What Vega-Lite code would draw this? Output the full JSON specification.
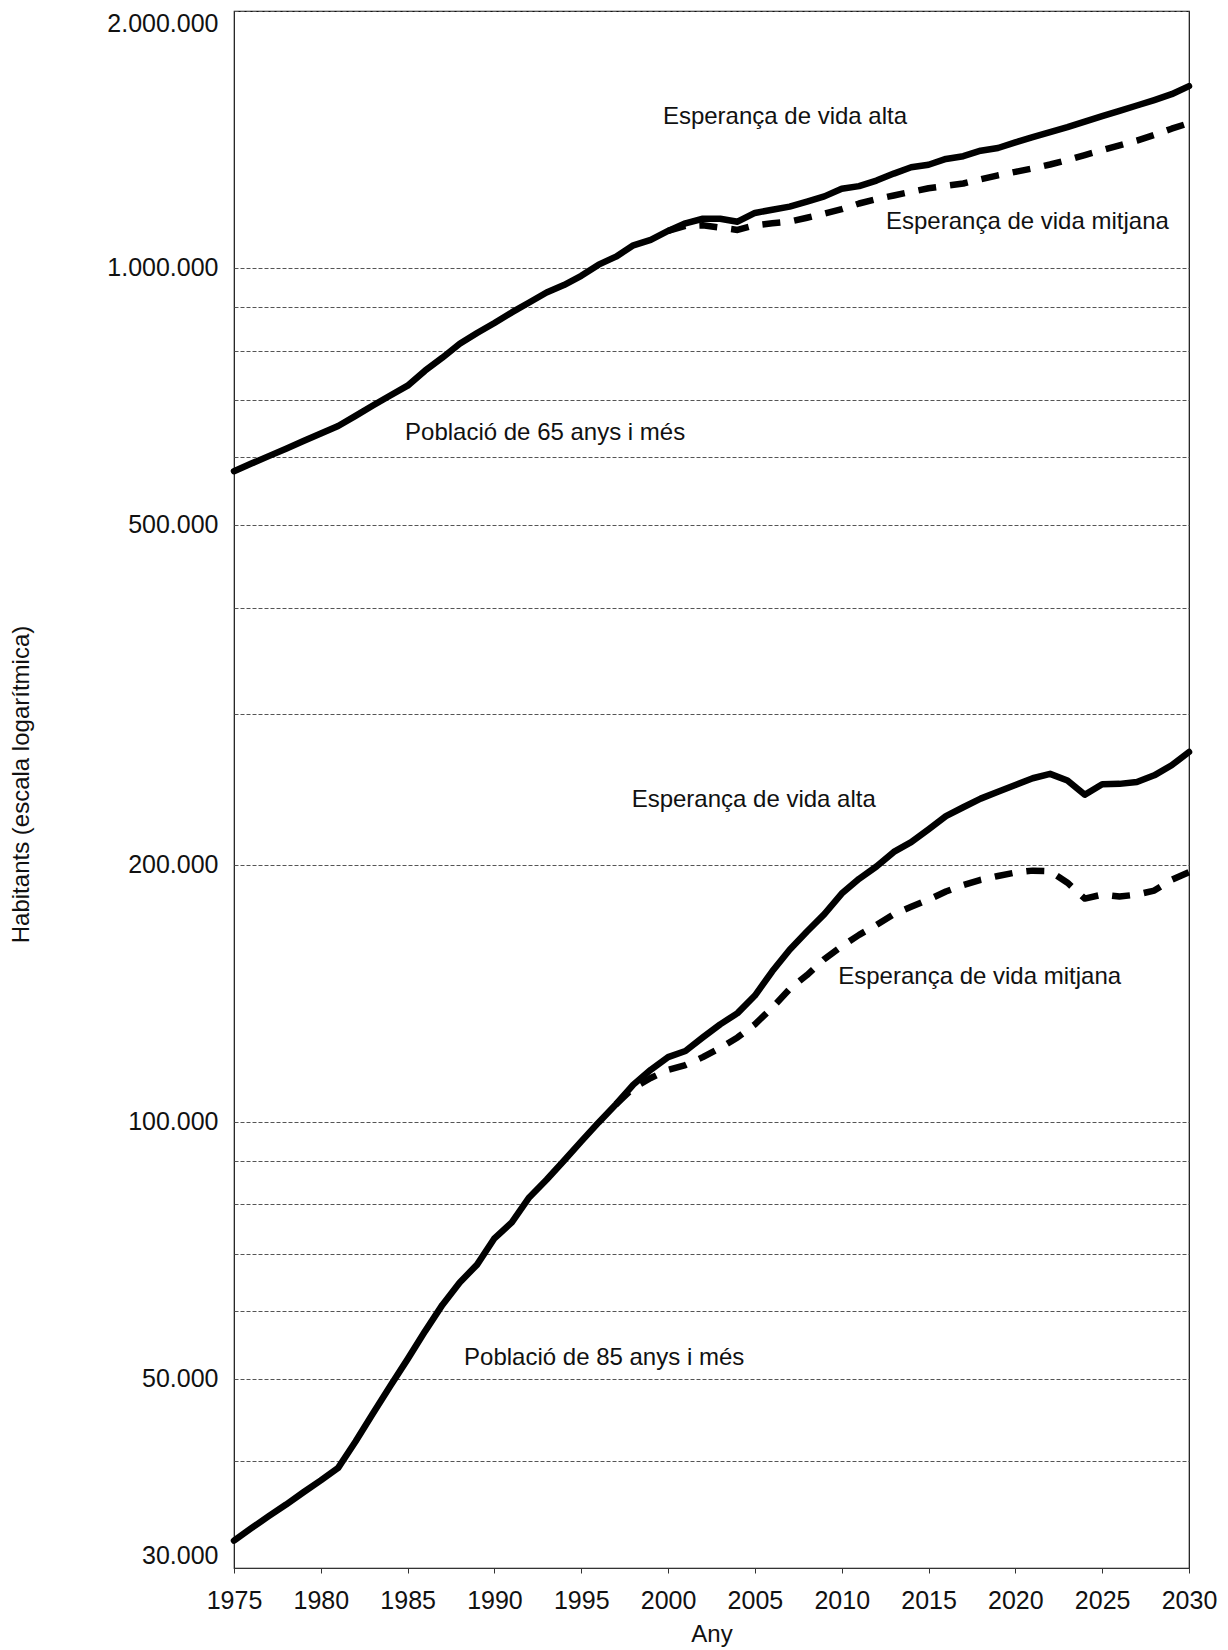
{
  "$schema": "https://vega.github.io/schema/vega-lite/v6.json",
  "width": 955,
  "height": 1557,
  "autosize": {"type": "none"},
  "padding": {"left": 234, "top": 11, "right": 39, "bottom": 82},
  "background": "white",
  "config": {
    "locale": {"number": {"decimal": ",", "thousands": ".", "grouping": [3], "currency": ["", " €"]}},
    "font": "Liberation Sans",
    "view": {"stroke": "#111", "strokeWidth": 1.2},
    "axis": {"labelFont": "Liberation Sans", "titleFont": "Liberation Sans", "labelColor": "#111", "titleColor": "#111", "titleFontWeight": "normal"}
  },
  "datasets": {
    "series": [
      {"any": 1975, "habitants": 578000, "grup": "65", "escenari": "alta"},
      {"any": 1976, "habitants": 590000, "grup": "65", "escenari": "alta"},
      {"any": 1977, "habitants": 602000, "grup": "65", "escenari": "alta"},
      {"any": 1978, "habitants": 614000, "grup": "65", "escenari": "alta"},
      {"any": 1979, "habitants": 627000, "grup": "65", "escenari": "alta"},
      {"any": 1980, "habitants": 640000, "grup": "65", "escenari": "alta"},
      {"any": 1981, "habitants": 653000, "grup": "65", "escenari": "alta"},
      {"any": 1982, "habitants": 671000, "grup": "65", "escenari": "alta"},
      {"any": 1983, "habitants": 690000, "grup": "65", "escenari": "alta"},
      {"any": 1984, "habitants": 709000, "grup": "65", "escenari": "alta"},
      {"any": 1985, "habitants": 728000, "grup": "65", "escenari": "alta"},
      {"any": 1986, "habitants": 758000, "grup": "65", "escenari": "alta"},
      {"any": 1987, "habitants": 785000, "grup": "65", "escenari": "alta"},
      {"any": 1988, "habitants": 815000, "grup": "65", "escenari": "alta"},
      {"any": 1989, "habitants": 839000, "grup": "65", "escenari": "alta"},
      {"any": 1990, "habitants": 862000, "grup": "65", "escenari": "alta"},
      {"any": 1991, "habitants": 887000, "grup": "65", "escenari": "alta"},
      {"any": 1992, "habitants": 911000, "grup": "65", "escenari": "alta"},
      {"any": 1993, "habitants": 936000, "grup": "65", "escenari": "alta"},
      {"any": 1994, "habitants": 955000, "grup": "65", "escenari": "alta"},
      {"any": 1995, "habitants": 979000, "grup": "65", "escenari": "alta"},
      {"any": 1996, "habitants": 1009000, "grup": "65", "escenari": "alta"},
      {"any": 1997, "habitants": 1031000, "grup": "65", "escenari": "alta"},
      {"any": 1998, "habitants": 1063000, "grup": "65", "escenari": "alta"},
      {"any": 1999, "habitants": 1079000, "grup": "65", "escenari": "alta"},
      {"any": 2000, "habitants": 1105000, "grup": "65", "escenari": "alta"},
      {"any": 2001, "habitants": 1128000, "grup": "65", "escenari": "alta"},
      {"any": 2002, "habitants": 1142000, "grup": "65", "escenari": "alta"},
      {"any": 2003, "habitants": 1142000, "grup": "65", "escenari": "alta"},
      {"any": 2004, "habitants": 1133000, "grup": "65", "escenari": "alta"},
      {"any": 2005, "habitants": 1160000, "grup": "65", "escenari": "alta"},
      {"any": 2006, "habitants": 1170000, "grup": "65", "escenari": "alta"},
      {"any": 2007, "habitants": 1180000, "grup": "65", "escenari": "alta"},
      {"any": 2008, "habitants": 1196000, "grup": "65", "escenari": "alta"},
      {"any": 2009, "habitants": 1213000, "grup": "65", "escenari": "alta"},
      {"any": 2010, "habitants": 1238000, "grup": "65", "escenari": "alta"},
      {"any": 2011, "habitants": 1247000, "grup": "65", "escenari": "alta"},
      {"any": 2012, "habitants": 1266000, "grup": "65", "escenari": "alta"},
      {"any": 2013, "habitants": 1290000, "grup": "65", "escenari": "alta"},
      {"any": 2014, "habitants": 1312000, "grup": "65", "escenari": "alta"},
      {"any": 2015, "habitants": 1321000, "grup": "65", "escenari": "alta"},
      {"any": 2016, "habitants": 1342000, "grup": "65", "escenari": "alta"},
      {"any": 2017, "habitants": 1352000, "grup": "65", "escenari": "alta"},
      {"any": 2018, "habitants": 1372000, "grup": "65", "escenari": "alta"},
      {"any": 2019, "habitants": 1382000, "grup": "65", "escenari": "alta"},
      {"any": 2020, "habitants": 1403000, "grup": "65", "escenari": "alta"},
      {"any": 2021, "habitants": 1423000, "grup": "65", "escenari": "alta"},
      {"any": 2022, "habitants": 1443000, "grup": "65", "escenari": "alta"},
      {"any": 2023, "habitants": 1462000, "grup": "65", "escenari": "alta"},
      {"any": 2024, "habitants": 1484000, "grup": "65", "escenari": "alta"},
      {"any": 2025, "habitants": 1506000, "grup": "65", "escenari": "alta"},
      {"any": 2026, "habitants": 1528000, "grup": "65", "escenari": "alta"},
      {"any": 2027, "habitants": 1550000, "grup": "65", "escenari": "alta"},
      {"any": 2028, "habitants": 1573000, "grup": "65", "escenari": "alta"},
      {"any": 2029, "habitants": 1598000, "grup": "65", "escenari": "alta"},
      {"any": 2030, "habitants": 1633000, "grup": "65", "escenari": "alta"},
      {"any": 2000, "habitants": 1105000, "grup": "65", "escenari": "mitjana"},
      {"any": 2001, "habitants": 1120000, "grup": "65", "escenari": "mitjana"},
      {"any": 2002, "habitants": 1122000, "grup": "65", "escenari": "mitjana"},
      {"any": 2003, "habitants": 1115000, "grup": "65", "escenari": "mitjana"},
      {"any": 2004, "habitants": 1108000, "grup": "65", "escenari": "mitjana"},
      {"any": 2005, "habitants": 1122000, "grup": "65", "escenari": "mitjana"},
      {"any": 2006, "habitants": 1128000, "grup": "65", "escenari": "mitjana"},
      {"any": 2007, "habitants": 1133000, "grup": "65", "escenari": "mitjana"},
      {"any": 2008, "habitants": 1145000, "grup": "65", "escenari": "mitjana"},
      {"any": 2009, "habitants": 1158000, "grup": "65", "escenari": "mitjana"},
      {"any": 2010, "habitants": 1172000, "grup": "65", "escenari": "mitjana"},
      {"any": 2011, "habitants": 1190000, "grup": "65", "escenari": "mitjana"},
      {"any": 2012, "habitants": 1204000, "grup": "65", "escenari": "mitjana"},
      {"any": 2013, "habitants": 1216000, "grup": "65", "escenari": "mitjana"},
      {"any": 2014, "habitants": 1228000, "grup": "65", "escenari": "mitjana"},
      {"any": 2015, "habitants": 1240000, "grup": "65", "escenari": "mitjana"},
      {"any": 2016, "habitants": 1248000, "grup": "65", "escenari": "mitjana"},
      {"any": 2017, "habitants": 1256000, "grup": "65", "escenari": "mitjana"},
      {"any": 2018, "habitants": 1270000, "grup": "65", "escenari": "mitjana"},
      {"any": 2019, "habitants": 1284000, "grup": "65", "escenari": "mitjana"},
      {"any": 2020, "habitants": 1296000, "grup": "65", "escenari": "mitjana"},
      {"any": 2021, "habitants": 1308000, "grup": "65", "escenari": "mitjana"},
      {"any": 2022, "habitants": 1322000, "grup": "65", "escenari": "mitjana"},
      {"any": 2023, "habitants": 1338000, "grup": "65", "escenari": "mitjana"},
      {"any": 2024, "habitants": 1356000, "grup": "65", "escenari": "mitjana"},
      {"any": 2025, "habitants": 1374000, "grup": "65", "escenari": "mitjana"},
      {"any": 2026, "habitants": 1392000, "grup": "65", "escenari": "mitjana"},
      {"any": 2027, "habitants": 1410000, "grup": "65", "escenari": "mitjana"},
      {"any": 2028, "habitants": 1432000, "grup": "65", "escenari": "mitjana"},
      {"any": 2029, "habitants": 1456000, "grup": "65", "escenari": "mitjana"},
      {"any": 2030, "habitants": 1478000, "grup": "65", "escenari": "mitjana"},
      {"any": 1975, "habitants": 32300, "grup": "85", "escenari": "alta"},
      {"any": 1976, "habitants": 33400, "grup": "85", "escenari": "alta"},
      {"any": 1977, "habitants": 34500, "grup": "85", "escenari": "alta"},
      {"any": 1978, "habitants": 35600, "grup": "85", "escenari": "alta"},
      {"any": 1979, "habitants": 36800, "grup": "85", "escenari": "alta"},
      {"any": 1980, "habitants": 38000, "grup": "85", "escenari": "alta"},
      {"any": 1981, "habitants": 39300, "grup": "85", "escenari": "alta"},
      {"any": 1982, "habitants": 42200, "grup": "85", "escenari": "alta"},
      {"any": 1983, "habitants": 45500, "grup": "85", "escenari": "alta"},
      {"any": 1984, "habitants": 49000, "grup": "85", "escenari": "alta"},
      {"any": 1985, "habitants": 52700, "grup": "85", "escenari": "alta"},
      {"any": 1986, "habitants": 56800, "grup": "85", "escenari": "alta"},
      {"any": 1987, "habitants": 61000, "grup": "85", "escenari": "alta"},
      {"any": 1988, "habitants": 64800, "grup": "85", "escenari": "alta"},
      {"any": 1989, "habitants": 68000, "grup": "85", "escenari": "alta"},
      {"any": 1990, "habitants": 73000, "grup": "85", "escenari": "alta"},
      {"any": 1991, "habitants": 76200, "grup": "85", "escenari": "alta"},
      {"any": 1992, "habitants": 81500, "grup": "85", "escenari": "alta"},
      {"any": 1993, "habitants": 85500, "grup": "85", "escenari": "alta"},
      {"any": 1994, "habitants": 90000, "grup": "85", "escenari": "alta"},
      {"any": 1995, "habitants": 94800, "grup": "85", "escenari": "alta"},
      {"any": 1996, "habitants": 99800, "grup": "85", "escenari": "alta"},
      {"any": 1997, "habitants": 104800, "grup": "85", "escenari": "alta"},
      {"any": 1998, "habitants": 110500, "grup": "85", "escenari": "alta"},
      {"any": 1999, "habitants": 115000, "grup": "85", "escenari": "alta"},
      {"any": 2000, "habitants": 119000, "grup": "85", "escenari": "alta"},
      {"any": 2001, "habitants": 121000, "grup": "85", "escenari": "alta"},
      {"any": 2002, "habitants": 125500, "grup": "85", "escenari": "alta"},
      {"any": 2003, "habitants": 130000, "grup": "85", "escenari": "alta"},
      {"any": 2004, "habitants": 134000, "grup": "85", "escenari": "alta"},
      {"any": 2005, "habitants": 140500, "grup": "85", "escenari": "alta"},
      {"any": 2006, "habitants": 150000, "grup": "85", "escenari": "alta"},
      {"any": 2007, "habitants": 159000, "grup": "85", "escenari": "alta"},
      {"any": 2008, "habitants": 167000, "grup": "85", "escenari": "alta"},
      {"any": 2009, "habitants": 175000, "grup": "85", "escenari": "alta"},
      {"any": 2010, "habitants": 185000, "grup": "85", "escenari": "alta"},
      {"any": 2011, "habitants": 192500, "grup": "85", "escenari": "alta"},
      {"any": 2012, "habitants": 199000, "grup": "85", "escenari": "alta"},
      {"any": 2013, "habitants": 207000, "grup": "85", "escenari": "alta"},
      {"any": 2014, "habitants": 212500, "grup": "85", "escenari": "alta"},
      {"any": 2015, "habitants": 220000, "grup": "85", "escenari": "alta"},
      {"any": 2016, "habitants": 228000, "grup": "85", "escenari": "alta"},
      {"any": 2017, "habitants": 233500, "grup": "85", "escenari": "alta"},
      {"any": 2018, "habitants": 239000, "grup": "85", "escenari": "alta"},
      {"any": 2019, "habitants": 243500, "grup": "85", "escenari": "alta"},
      {"any": 2020, "habitants": 248000, "grup": "85", "escenari": "alta"},
      {"any": 2021, "habitants": 252500, "grup": "85", "escenari": "alta"},
      {"any": 2022, "habitants": 255500, "grup": "85", "escenari": "alta"},
      {"any": 2023, "habitants": 251000, "grup": "85", "escenari": "alta"},
      {"any": 2024, "habitants": 241500, "grup": "85", "escenari": "alta"},
      {"any": 2025, "habitants": 248500, "grup": "85", "escenari": "alta"},
      {"any": 2026, "habitants": 248700, "grup": "85", "escenari": "alta"},
      {"any": 2027, "habitants": 250000, "grup": "85", "escenari": "alta"},
      {"any": 2028, "habitants": 254500, "grup": "85", "escenari": "alta"},
      {"any": 2029, "habitants": 261500, "grup": "85", "escenari": "alta"},
      {"any": 2030, "habitants": 271000, "grup": "85", "escenari": "alta"},
      {"any": 1997, "habitants": 104800, "grup": "85", "escenari": "mitjana"},
      {"any": 1998, "habitants": 109500, "grup": "85", "escenari": "mitjana"},
      {"any": 1999, "habitants": 112500, "grup": "85", "escenari": "mitjana"},
      {"any": 2000, "habitants": 115000, "grup": "85", "escenari": "mitjana"},
      {"any": 2001, "habitants": 116500, "grup": "85", "escenari": "mitjana"},
      {"any": 2002, "habitants": 119000, "grup": "85", "escenari": "mitjana"},
      {"any": 2003, "habitants": 122000, "grup": "85", "escenari": "mitjana"},
      {"any": 2004, "habitants": 125500, "grup": "85", "escenari": "mitjana"},
      {"any": 2005, "habitants": 130000, "grup": "85", "escenari": "mitjana"},
      {"any": 2006, "habitants": 136000, "grup": "85", "escenari": "mitjana"},
      {"any": 2007, "habitants": 143000, "grup": "85", "escenari": "mitjana"},
      {"any": 2008, "habitants": 148500, "grup": "85", "escenari": "mitjana"},
      {"any": 2009, "habitants": 155000, "grup": "85", "escenari": "mitjana"},
      {"any": 2010, "habitants": 160500, "grup": "85", "escenari": "mitjana"},
      {"any": 2011, "habitants": 165500, "grup": "85", "escenari": "mitjana"},
      {"any": 2012, "habitants": 170000, "grup": "85", "escenari": "mitjana"},
      {"any": 2013, "habitants": 175000, "grup": "85", "escenari": "mitjana"},
      {"any": 2014, "habitants": 178500, "grup": "85", "escenari": "mitjana"},
      {"any": 2015, "habitants": 182000, "grup": "85", "escenari": "mitjana"},
      {"any": 2016, "habitants": 186000, "grup": "85", "escenari": "mitjana"},
      {"any": 2017, "habitants": 189300, "grup": "85", "escenari": "mitjana"},
      {"any": 2018, "habitants": 192000, "grup": "85", "escenari": "mitjana"},
      {"any": 2019, "habitants": 194000, "grup": "85", "escenari": "mitjana"},
      {"any": 2020, "habitants": 195800, "grup": "85", "escenari": "mitjana"},
      {"any": 2021, "habitants": 196800, "grup": "85", "escenari": "mitjana"},
      {"any": 2022, "habitants": 196500, "grup": "85", "escenari": "mitjana"},
      {"any": 2023, "habitants": 190500, "grup": "85", "escenari": "mitjana"},
      {"any": 2024, "habitants": 182500, "grup": "85", "escenari": "mitjana"},
      {"any": 2025, "habitants": 184500, "grup": "85", "escenari": "mitjana"},
      {"any": 2026, "habitants": 183500, "grup": "85", "escenari": "mitjana"},
      {"any": 2027, "habitants": 184500, "grup": "85", "escenari": "mitjana"},
      {"any": 2028, "habitants": 186500, "grup": "85", "escenari": "mitjana"},
      {"any": 2029, "habitants": 192000, "grup": "85", "escenari": "mitjana"},
      {"any": 2030, "habitants": 196000, "grup": "85", "escenari": "mitjana"}
    ],
    "etiquetes": [
      {"any": 1999.7, "habitants": 1503000, "text": "Esperança de vida alta"},
      {"any": 2012.55, "habitants": 1132000, "text": "Esperança de vida mitjana"},
      {"any": 1984.85, "habitants": 640000, "text": "Població de 65 anys i més"},
      {"any": 1997.9, "habitants": 238200, "text": "Esperança de vida alta"},
      {"any": 2009.8, "habitants": 147900, "text": "Esperança de vida mitjana"},
      {"any": 1988.25, "habitants": 52900, "text": "Població de 85 anys i més"}
    ]
  },
  "layer": [
    {
      "data": {"name": "series"},
      "transform": [{"filter": "datum.escenari === 'mitjana'"}],
      "mark": {"type": "line", "color": "#000", "strokeWidth": 6.5, "strokeDash": [18, 14], "strokeCap": "butt", "strokeJoin": "round"},
      "encoding": {
        "x": {
          "field": "any", "type": "quantitative",
          "scale": {"domain": [1975, 2030], "nice": false, "zero": false},
          "axis": {
            "title": "Any", "values": [1975, 1980, 1985, 1990, 1995, 2000, 2005, 2010, 2015, 2020, 2025, 2030],
            "format": "d", "grid": false, "labelFontSize": 25, "titleFontSize": 24,
            "labelFlush": false, "labelOverlap": false,
            "tickSize": 5, "tickColor": "#333", "domainColor": "#333", "labelPadding": 15,
            "titleY": 66, "titleBaseline": "middle"
          }
        },
        "y": {
          "field": "habitants", "type": "quantitative",
          "scale": {"type": "log", "domain": [30000, 2000000], "nice": false},
          "axis": {
            "title": "Habitants (escala logarítmica)",
            "values": [30000, 40000, 50000, 60000, 70000, 80000, 90000, 100000, 200000, 300000, 400000, 500000, 600000, 700000, 800000, 900000, 1000000, 2000000],
            "format": ",d",
            "labelExpr": "indexof([30000, 50000, 100000, 200000, 500000, 1000000, 2000000], datum.value) >= 0 ? datum.label : ''",
            "grid": true, "gridColor": "#555", "gridWidth": 1, "gridDash": [4, 2],
            "ticks": false, "tickSize": 0, "domain": false,
            "labelFontSize": 25, "labelPadding": 16, "labelFlush": true, "labelOverlap": false,
            "titleFontSize": 24, "titleAngle": -90, "titleX": -213, "titleY": 773,
            "titleAlign": "center", "titleBaseline": "middle"
          }
        },
        "detail": {"field": "grup"}
      }
    },
    {
      "data": {"name": "series"},
      "transform": [{"filter": "datum.escenari === 'alta'"}],
      "mark": {"type": "line", "color": "#000", "strokeWidth": 6.5, "strokeJoin": "round", "strokeCap": "round"},
      "encoding": {
        "x": {"field": "any", "type": "quantitative"},
        "y": {"field": "habitants", "type": "quantitative"},
        "detail": {"field": "grup"}
      }
    },
    {
      "data": {"name": "etiquetes"},
      "mark": {"type": "text", "align": "left", "baseline": "middle", "fontSize": 24, "font": "Liberation Sans", "color": "#111"},
      "encoding": {
        "x": {"field": "any", "type": "quantitative"},
        "y": {"field": "habitants", "type": "quantitative"},
        "text": {"field": "text"}
      }
    }
  ]
}
